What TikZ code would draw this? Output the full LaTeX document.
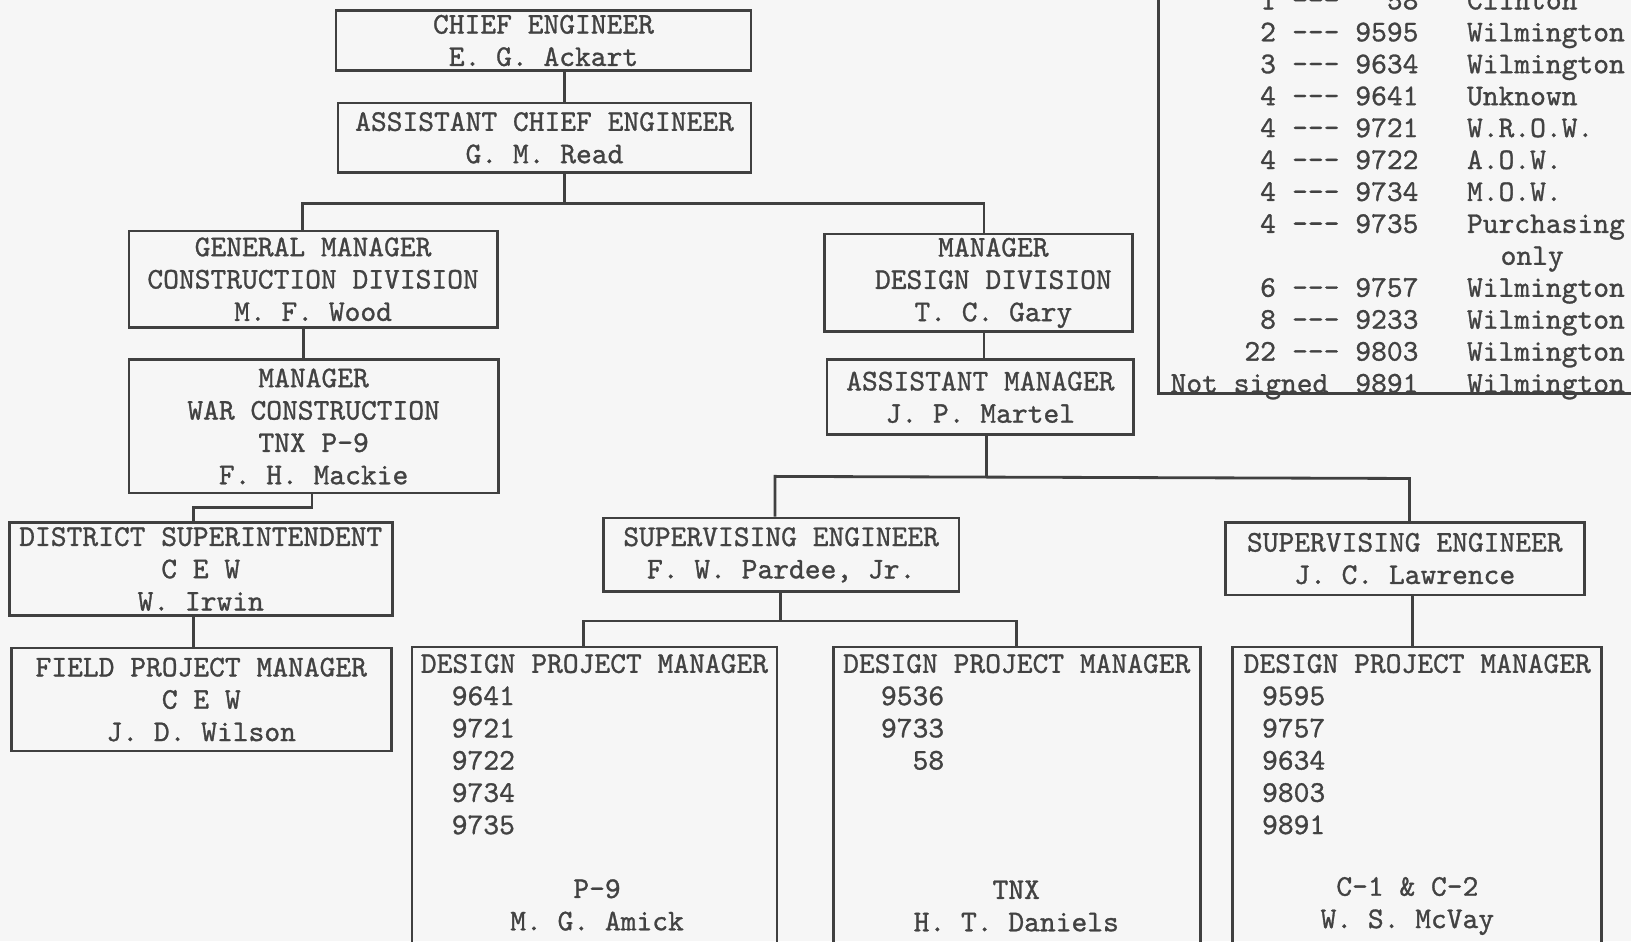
\documentclass[tikz,border=0pt]{standalone}
\usepackage{fontspec}
\usetikzlibrary{calc}

\newfontfamily\typer{lmmono10-regular.otf}[FakeBold=1.0]
\definecolor{paper}{gray}{0.965}
\definecolor{ink}{gray}{0.26}
\definecolor{rule}{gray}{0.25}
\def\pxl{0.0208cm}

\tikzset{
  orgbox/.style 2 args={draw=rule, line width=1.6pt, minimum width=#1*\pxl,
    minimum height=#2*\pxl, inner sep=0pt, align=center, text=ink},
  link/.style={draw=rule, line width=1.6pt},
  txt/.style={inner sep=0pt, text=ink},
}

\begin{document}
\begin{tikzpicture}[x=0.0208cm, y=-0.0208cm,
  font=\typer\fontsize{17.1}{18.4}\selectfont]
\useasboundingbox (0,0) rectangle (1568,905);
\clip (0,0) rectangle (1568,905);
\fill[paper] (0,0) rectangle (1568,905);

% Top of the chart
\node[orgbox={399}{58}] (chief) at (522.5,39) {CHIEF ENGINEER\\E. G. Ackart};
\node[orgbox={397}{67}] (asst) at (523.5,132.5) {ASSISTANT CHIEF ENGINEER\\G. M. Read};

% Construction side
\node[orgbox={354}{93}] (gm) at (301,268.5) {GENERAL MANAGER\\CONSTRUCTION DIVISION\\M. F. Wood};
\node[orgbox={355}{128}] (war) at (301.5,410) {MANAGER\\WAR CONSTRUCTION\\TNX P-9\\F. H. Mackie};
\node[orgbox={368}{90}] (ds) at (193,547) {DISTRICT SUPERINTENDENT\\C E W\\W. Irwin};
\node[orgbox={365}{99}] (fp) at (193.5,672.5) {FIELD PROJECT MANAGER\\C E W\\J. D. Wilson};

% Design side
\node[orgbox={296}{94}] (md) at (941,272) {};
\node[txt, align=center] (mdt) at (955,272) {MANAGER\\DESIGN DIVISION\\T. C. Gary};
\node[orgbox={295}{72}] (am) at (942.5,382) {ASSISTANT MANAGER\\J. P. Martel};
\node[orgbox={342}{71}] (pa) at (751,533.5) {SUPERVISING ENGINEER\\F. W. Pardee, Jr.};
\node[orgbox={345}{70}] (la) at (1350.5,537) {SUPERVISING ENGINEER\\J. C. Lawrence};

% Design project managers (cut off at the bottom)
\node[orgbox={351}{308}] (dp1) at (571.5,776) {};
\node[orgbox={353}{308}] (dp2) at (977.5,776) {};
\node[orgbox={355}{308}] (dp3) at (1362.5,776) {};

\node[txt] (t1) at (571.5,638) {DESIGN PROJECT MANAGER};
\node[txt] (t2) at (977.5,638) {DESIGN PROJECT MANAGER};
\node[txt] (t3) at (1362.5,638) {DESIGN PROJECT MANAGER};

\foreach \n [count=\i from 0] in {9641,9721,9722,9734,9735}
  \node[txt, anchor=west] (a\i) at (434,669+31*\i) {\n};
\foreach \n [count=\i from 0] in {9536,9733,58}
  \node[txt, anchor=east] (b\i) at (908,669+31*\i) {\n};
\foreach \n [count=\i from 0] in {9595,9757,9634,9803,9891}
  \node[txt, anchor=west] (c\i) at (1213,669+31*\i) {\n};

\node[txt, align=center] (amick) at (574,870) {P-9\\M. G. Amick};
\node[txt, align=center] (daniels) at (977,871) {TNX\\H. T. Daniels};
\node[txt, align=center] (mcvay) at (1353,871) {C-1 \& C-2\\W. S. McVay};

% Connectors
\coordinate (j1) at (543,196);
\coordinate (j1l) at (291,196);
\coordinate (j1r) at (946,196);
\draw[link] (chief.south -| j1) -- (asst.north -| j1);
\draw[link] (asst.south -| j1) -- (j1);
\draw[link] (gm.north -| j1l) -- (j1l) -- (j1r) -- (md.north -| j1r);

\coordinate (j2) at (292,330);
\draw[link] (gm.south -| j2) -- (war.north -| j2);

\coordinate (j4r) at (300,488);
\coordinate (j4l) at (186,488);
\draw[link] (war.south -| j4r) -- (j4r) -- (j4l) -- (ds.north -| j4l);
\draw[link] (ds.south -| j4l) -- (fp.north -| j4l);

\draw[link] (md.south -| j1r) -- (am.north -| j1r);
\coordinate (j3) at (948,458);
\coordinate (j3l) at (745,458);
\coordinate (j3r) at (1355,460);
\draw[link] (am.south -| j3) -- (j3);
\draw[link] (pa.north -| j3l) -- (j3l) -- (j3r) -- (la.north -| j3r);

\coordinate (j5) at (750,597);
\coordinate (j5l) at (561,597);
\coordinate (j5r) at (977,597);
\draw[link] (pa.south -| j5) -- (j5);
\draw[link] (dp1.north -| j5l) -- (j5l) -- (j5r) -- (dp2.north -| j5r);

\coordinate (j6) at (1358,597);
\draw[link] (la.south -| j6) -- (dp3.north -| j6);

% Contract list (top right, cut off)
\node[orgbox={500}{430}, anchor=south west] (list) at (1112,380) {};
\foreach \k/\a/\n/\p in {0/1/58/Clinton, 1/2/9595/Wilmington, 2/3/9634/Wilmington,
    3/4/9641/Unknown, 4/4/9721/W.R.O.W., 5/4/9722/A.O.W., 6/4/9734/M.O.W.,
    7/4/9735/Purchasing, 9/6/9757/Wilmington, 10/8/9233/Wilmington,
    11/22/9803/Wilmington}{
  \node[txt, anchor=base east] (la\k) at (1227,30.7*\k+9) {\a};
  \node[txt, anchor=base] (ld\k) at (1265,30.7*\k+9) {---};
  \node[txt, anchor=base east] (ln\k) at (1364,30.7*\k+9) {\n};
  \node[txt, anchor=base west] (lp\k) at (1410,30.7*\k+9) {\p};
}
\node[txt, anchor=base] (only) at (1473,30.7*8+9) {only};
\node[txt, anchor=base west] (ns) at (1125,30.7*12+9) {Not signed};
\node[txt, anchor=base east] (nsn) at (1364,30.7*12+9) {9891};
\node[txt, anchor=base west] (nsp) at (1410,30.7*12+9) {Wilmington};
\end{tikzpicture}
\end{document}
